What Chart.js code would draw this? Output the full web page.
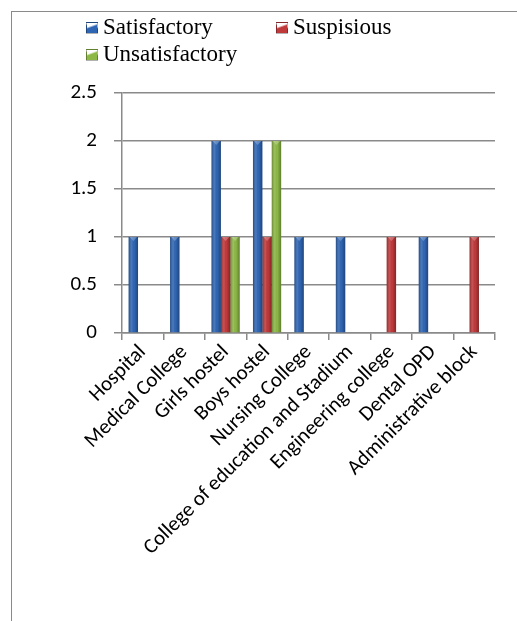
<!DOCTYPE html>
<html>
<head>
<meta charset="utf-8">
<style>
    html, body { margin: 0; padding: 0; background: #fff; font-family: 'Liberation Serif'; }
    #wrap { position: relative; width: 517px; height: 621px; overflow: hidden; }
    #frame {
        position: absolute; left: 11px; top: 11px; right: -5px; bottom: -5px;
        border-top: 1.5px solid #8a8a8a; border-left: 1.5px solid #8a8a8a;
    }
    #chart { position: absolute; left: 0; top: 0; }
    .lg-item {
        position: absolute; height: 27px; line-height: 27px; white-space: nowrap;
        font-family: 'Liberation Serif'; font-size: 23px; color: #000;
    }
    .lg-box {
        display: inline-block; width: 12px; height: 12px; margin-right: 5px;
        vertical-align: 0px; box-sizing: border-box; border: 1px solid rgba(0,0,0,0.3);
    }
</style>
</head>
<body>
<div id="wrap">
    <div id="frame"></div>
    <canvas id="chart" width="517" height="621"></canvas>
    <div id="legend"></div>
</div>
<script>
const categories = ['Hospital', 'Medical College', 'Girls hostel', 'Boys hostel', 'Nursing College',
    'College of education and Stadium', 'Engineering college', 'Dental OPD', 'Administrative block'];
const seriesNames = ['Satisfactory', 'Suspisious', 'Unsatisfactory'];
const satisfactory = [1, 1, 2, 2, 1, 1, 0, 1, 0];
const suspisious = [0, 0, 1, 1, 0, 0, 1, 0, 1];
const unsatisfactory = [0, 0, 1, 2, 0, 0, 0, 0, 0];
const yMin = 0;
const yMax = 2.5;
const yStep = 0.5;

const COLORS = ['#2f66b4', '#c0393b', '#8db845'];

// html legend built early so its font is laid out with the page, two columns like the original
const slots = [{ x: 86, y: 13 }, { x: 276, y: 13 }, { x: 86, y: 40 }];
document.getElementById('legend').innerHTML = seriesNames.map(function (name, i) {
    const s = slots[i];
    return '<div class="lg-item" style="left:' + s.x + 'px;top:' + s.y + 'px">' +
        '<span class="lg-box" style="background:linear-gradient(160deg,rgba(255,255,255,0.45) 0 30%,' +
        COLORS[i] + ' 45%)"></span>' + name + '</div>';
}).join('');
</script>
<script src="https://cdn.jsdelivr.net/npm/chart.js@4/dist/chart.umd.min.js"></script>
<script>
const GRID = '#8a8a8a';
const TICK_FONT = { family: 'Carlito, Lato', size: 21 };

// shading over each bar to get the cylinder look of the original
const barShade = {
    id: 'barShade',
    afterDatasetsDraw(chart) {
        const ctx = chart.ctx;
        chart.data.datasets.forEach(function (ds, i) {
            const meta = chart.getDatasetMeta(i);
            meta.data.forEach(function (el) {
                const p = el.getProps(['x', 'y', 'base', 'width'], true);
                const h = p.base - p.y;
                if (h < 1) return;
                const left = p.x - p.width / 2;
                const g = ctx.createLinearGradient(left, 0, left + p.width, 0);
                g.addColorStop(0, 'rgba(0,0,0,0.28)');
                g.addColorStop(0.35, 'rgba(255,255,255,0.12)');
                g.addColorStop(0.6, 'rgba(0,0,0,0)');
                g.addColorStop(1, 'rgba(0,0,0,0.32)');
                ctx.save();
                ctx.fillStyle = g;
                ctx.fillRect(left, p.y, p.width, h);
                // small bevel on the top
                ctx.fillStyle = 'rgba(255,255,255,0.25)';
                ctx.beginPath();
                ctx.moveTo(left + 1, p.y);
                ctx.lineTo(left + p.width - 1, p.y);
                ctx.lineTo(p.x, p.y + 4);
                ctx.closePath();
                ctx.fill();
                ctx.restore();
            });
        });
    }
};

new Chart(document.getElementById('chart').getContext('2d'), {
    type: 'bar',
    data: {
        labels: categories,
        datasets: [
            { label: seriesNames[0], data: satisfactory, backgroundColor: COLORS[0] },
            { label: seriesNames[1], data: suspisious, backgroundColor: COLORS[1] },
            { label: seriesNames[2], data: unsatisfactory, backgroundColor: COLORS[2] },
        ],
    },
    options: {
        responsive: false,
        animation: false,
        devicePixelRatio: 1,
        categoryPercentage: 0.68,
        barPercentage: 1,
        layout: { padding: { top: 93, right: 22, left: 0, bottom: 0 } },
        plugins: { legend: { display: false }, tooltip: { enabled: false } },
        scales: {
            x: {
                grid: { drawOnChartArea: false, color: GRID, lineWidth: 1.5, tickLength: 7 },
                border: { color: GRID, width: 1.5 },
                ticks: { color: '#000', font: TICK_FONT, minRotation: 45, maxRotation: 45, padding: 0, autoSkip: false },
                afterFit: function (scale) { scale.height = 288; },
            },
            y: {
                min: yMin,
                max: yMax,
                grid: { color: GRID, lineWidth: 1.5, tickLength: 8 },
                border: { color: GRID, width: 1.5 },
                ticks: {
                    stepSize: yStep, color: '#000', font: TICK_FONT, padding: 17,
                    callback: function (v) { return String(v); },
                },
                afterFit: function (scale) { scale.width = 122; },
            },
        },
    },
    plugins: [barShade],
});
</script>
</body>
</html>
